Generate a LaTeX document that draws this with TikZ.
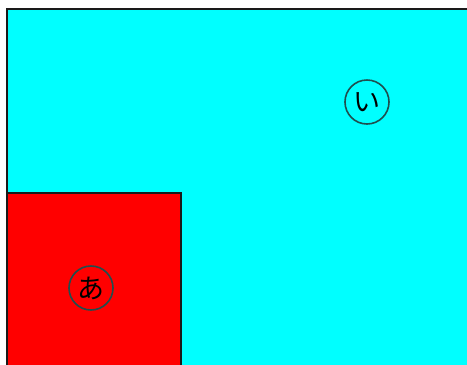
\documentclass[tikz,border=0pt]{standalone}
\usepackage{fontspec}
\usepackage{tikz}
\usepackage{xcolor}
\usetikzlibrary{positioning}
\newfontfamily\jpfont{Noto Sans CJK JP}
\definecolor{areacyan}{HTML}{00FFFF}
\definecolor{areared}{HTML}{FF0000}
\definecolor{edgedark}{HTML}{1A1A1A}
\definecolor{ringteal}{HTML}{1F4F4F}
\tikzset{
  area/.style   ={draw=edgedark, line width=1.5pt},
  cyanarea/.style={area, fill=areacyan},
  redarea/.style ={area, fill=areared},
  kanamark/.style={circle, draw=ringteal, line width=1.6pt, minimum size=44pt,
                   inner sep=0pt, font=\jpfont\fontsize{27}{27}\selectfont, text=black},
}

\begin{document}
\begin{tikzpicture}[x=1pt, y=-1pt]
\useasboundingbox (0,0) rectangle (467,365);
\fill[white] (0,0) rectangle (467,365);

% ---------------------------------------------------------------- areas
\draw[cyanarea] (7,9) rectangle (475,375);
\draw[redarea]  (7,193) rectangle (181,375);

% ---------------------------------------------------------------- labels
\node[kanamark] (i)  at (367,102) {い};
\node[kanamark] (a)  at (91,288)  {あ};

\end{tikzpicture}
\end{document}
